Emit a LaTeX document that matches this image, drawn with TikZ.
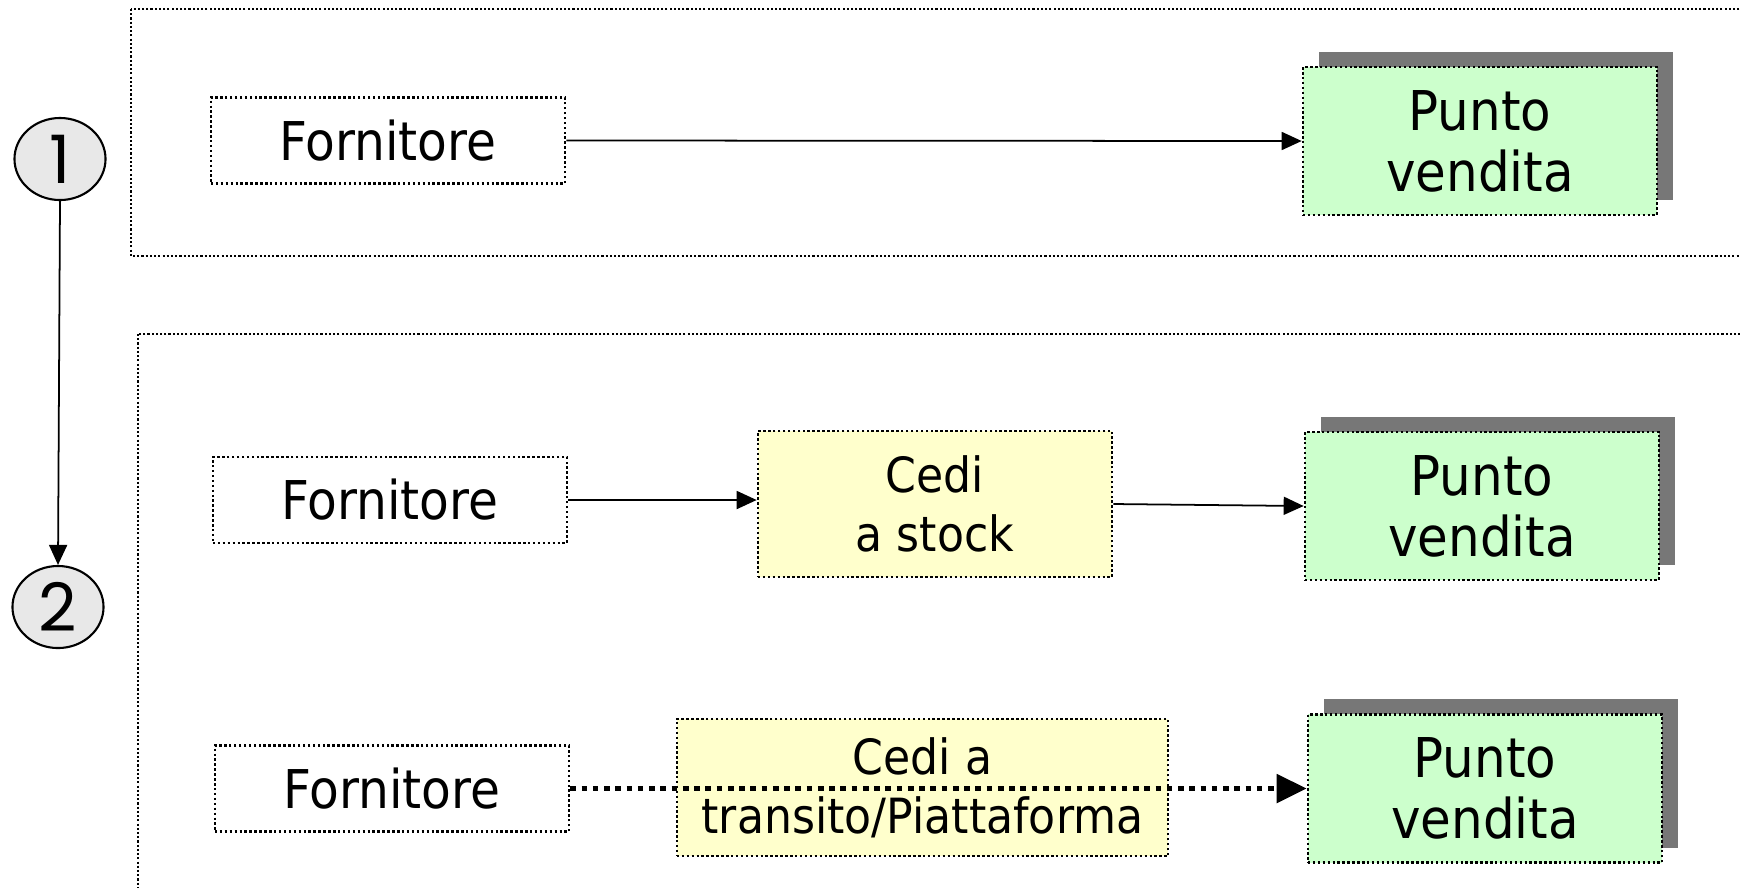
\documentclass[tikz,border=0pt]{standalone}
\usepackage{fontspec}
\setmainfont{DejaVu Sans}[FakeStretch=0.91]
\newfontfamily\digitfont{Poppins}
\usetikzlibrary{arrows.meta,shapes.geometric,shadows}

\definecolor{pvgreen}{HTML}{CCFFCC}
\definecolor{cediyellow}{HTML}{FFFFCC}
\definecolor{shadowgray}{HTML}{777777}
\definecolor{circlegray}{HTML}{E8E8E8}

\tikzset{
  dotborder/.style={draw=black, line width=0.7pt, dash pattern=on 0.7pt off 0.7pt},
  supplier/.style={dotborder, fill=white, minimum width=3.54cm, minimum height=0.86cm,
    inner sep=0pt, font=\fontsize{15.2}{17}\selectfont},
  store/.style={dotborder, fill=pvgreen, minimum width=3.54cm, minimum height=1.48cm,
    inner sep=0pt, align=center, font=\fontsize{15.6}{17.4}\selectfont,
    drop shadow={shadow xshift=0.16cm, shadow yshift=0.15cm, fill=shadowgray, opacity=1}},
  depot/.style={dotborder, fill=cediyellow, inner sep=0pt, align=center,
    font=\fontsize{13.8}{16.8}\selectfont},
  stepcircle/.style={ellipse, draw=black, line width=0.6pt, fill=circlegray,
    minimum width=0.91cm, minimum height=0.82cm, inner sep=0pt,
    font=\digitfont\fontsize{19}{19}\selectfont},
  frame/.style={draw=black, line width=0.6pt, dash pattern=on 0.6pt off 0.6pt},
  flow/.style={draw=black, line width=0.5pt, -{Triangle[length=0.2cm, width=0.18cm]}},
  transitflow/.style={draw=black, line width=1.5pt, dash pattern=on 1.6pt off 1.6pt,
    -{Triangle[length=0.3cm, width=0.28cm]}}
}

\begin{document}
\begin{tikzpicture}[x=0.01cm, y=-0.01cm]
  \useasboundingbox (0,0) rectangle (1740,887);
  \clip (0,0) rectangle (1740,887);

  % scenario frames
  \draw[frame] (131,9) rectangle (1760,256);
  \draw[frame] (138,334) rectangle (1760,910);

  % scenario markers
  \node[stepcircle] (c1) at (60,159) {1};
  \node[stepcircle] (c2) at (58,607) {2};
  \draw[flow] (c1.south) -- (c2.north);

  % scenario 1: direct delivery
  \node[supplier] (f1) at (388,140.5) {Fornitore};
  \node[store] (pv1) at (1480,141) {Punto\\vendita};
  \draw[flow] (f1.east) -- (pv1.west);

  % scenario 2a: stock depot
  \node[supplier] (f2) at (390,500) {Fornitore};
  \node[depot, minimum width=3.54cm, minimum height=1.46cm] (cs) at (935,504) {Cedi\\a stock};
  \node[store] (pv2) at (1482,506) {Punto\\vendita};
  \draw[flow] (f2.east) -- (f2.east -| cs.west);
  \draw[flow] (cs.east) -- (pv2.west);

  % scenario 2b: transit platform
  \node[supplier] (f3) at (392,788.5) {Fornitore};
  \node[depot, minimum width=4.91cm, minimum height=1.37cm] (ct) at (922.5,787.5) {Cedi a\\transito/Piattaforma};
  \node[store] (pv3) at (1485,788.5) {Punto\\vendita};
  \draw[transitflow] (f3.east) -- (pv3.west);
\end{tikzpicture}
\end{document}
